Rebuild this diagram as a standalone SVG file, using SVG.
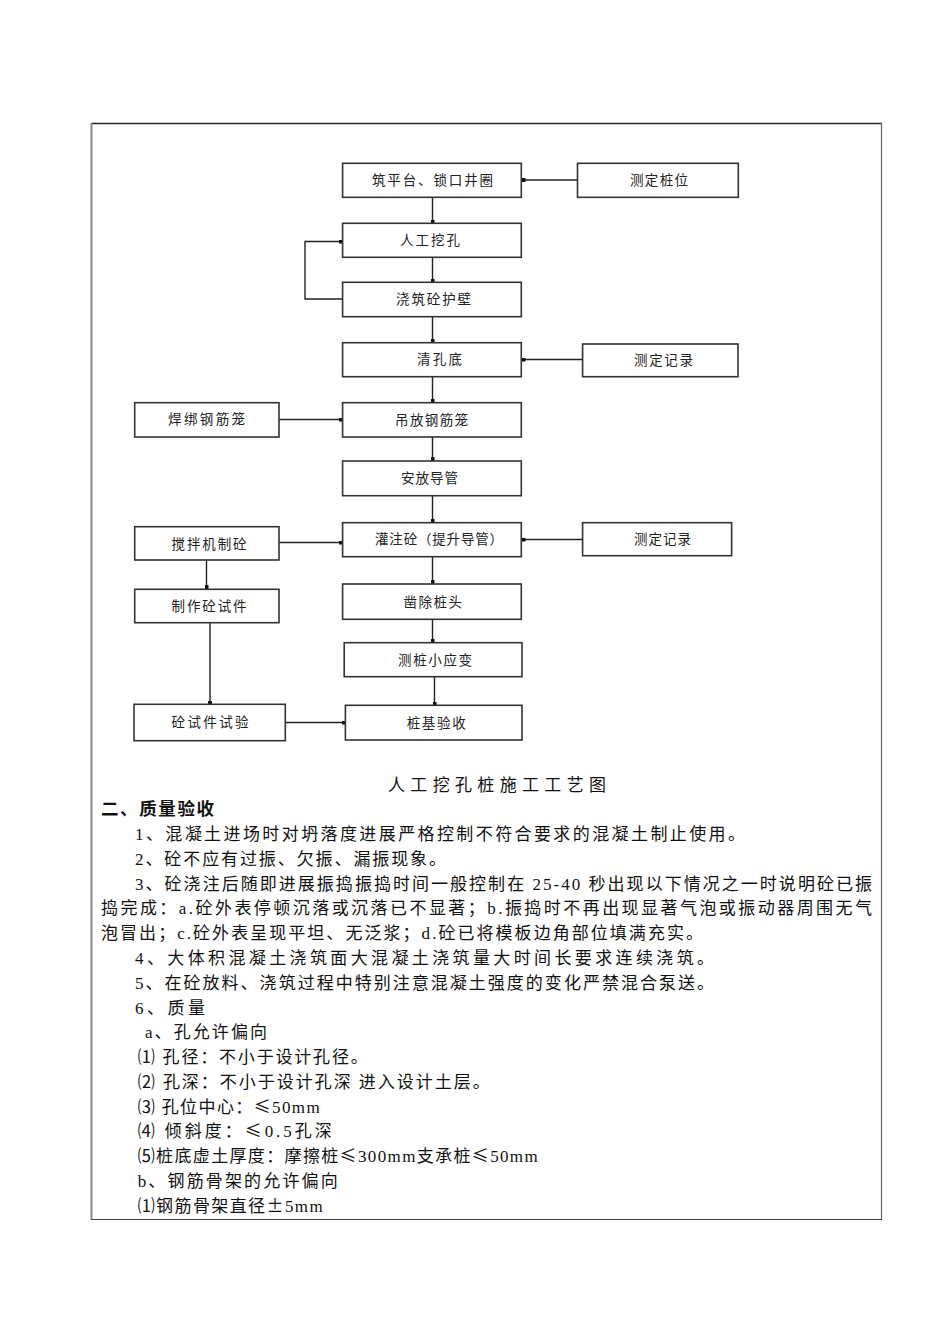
<svg xmlns="http://www.w3.org/2000/svg" width="950" height="1344" viewBox="0 0 950 1344">
<style>
.box{fill:#fff;stroke:#333;stroke-width:1.6}
.bt{font-family:"Noto Sans CJK SC",sans-serif;font-size:13.5px;fill:#222}
.ln{fill:none;stroke:#222;stroke-width:1.4}
.tx{font-family:"Liberation Serif","Noto Sans CJK SC",serif;font-size:17px;fill:#111}
.cj{font-family:"Noto Sans CJK SC",sans-serif}
.hd{font-family:"Liberation Serif","Noto Sans CJK SC",serif;font-size:17.5px;font-weight:bold;fill:#111}
</style>
<defs>
<marker id="sq" markerUnits="userSpaceOnUse" markerWidth="4" markerHeight="4" viewBox="0 0 4 4" refX="4" refY="2" orient="auto"><rect x="0" y="0" width="4" height="4" fill="#111"/></marker>
</defs>
<rect width="950" height="1344" fill="#fff"/>
<g id="frame">
<line x1="91" y1="123.5" x2="882" y2="123.5" stroke="#222" stroke-width="1.3"/>
<line x1="91.5" y1="123" x2="91.5" y2="1219.5" stroke="#888" stroke-width="2"/>
<line x1="881.5" y1="123" x2="881.5" y2="1219.5" stroke="#666" stroke-width="1.2"/>
<line x1="91" y1="1219.5" x2="882" y2="1219.5" stroke="#444" stroke-width="1.2"/>
</g>
<g id="connectors">
<path class="ln" marker-end="url(#sq)" d="M577.5,180 H521.5"/>
<path class="ln" marker-end="url(#sq)" d="M432.5,197.5 V223.5"/>
<path class="ln" marker-end="url(#sq)" d="M432.5,257.5 V282.5"/>
<path class="ln" marker-end="url(#sq)" d="M343,299 H305 V241.5 H342.5"/>
<path class="ln" marker-end="url(#sq)" d="M432.5,316.5 V342.5"/>
<path class="ln" marker-end="url(#sq)" d="M582.5,359.5 H521.5"/>
<path class="ln" marker-end="url(#sq)" d="M432.5,376.5 V402.5"/>
<path class="ln" marker-end="url(#sq)" d="M279,419.5 H342.5"/>
<path class="ln" marker-end="url(#sq)" d="M432.5,437 V461"/>
<path class="ln" marker-end="url(#sq)" d="M432.5,495.5 V522.5"/>
<path class="ln" marker-end="url(#sq)" d="M279,542.5 H342.5"/>
<path class="ln" marker-end="url(#sq)" d="M582.5,539.5 H521.5"/>
<path class="ln" marker-end="url(#sq)" d="M432.5,556.5 V584"/>
<path class="ln" marker-end="url(#sq)" d="M432.5,619 V642.5"/>
<path class="ln" marker-end="url(#sq)" d="M434.5,676.5 V705.5"/>
<path class="ln" marker-end="url(#sq)" d="M206.5,560 V589"/>
<path class="ln" marker-end="url(#sq)" d="M210,622.5 V704.5"/>
<path class="ln" marker-end="url(#sq)" d="M285.5,722.5 H345.5"/>
</g>
<g id="n1"><rect class="box" x="342.6" y="163.3" width="178.7" height="34"/><text class="bt" x="372" y="185" textLength="121" lengthAdjust="spacing">筑平台、锁口井圈</text></g>
<g id="n2"><rect class="box" x="577.5" y="163.3" width="160.8" height="34"/><text class="bt" x="630" y="185" textLength="58" lengthAdjust="spacing">测定桩位</text></g>
<g id="n3"><rect class="box" x="342.6" y="223.3" width="178.7" height="34"/><text class="bt" x="400" y="245" textLength="60" lengthAdjust="spacing">人工挖孔</text></g>
<g id="n4"><rect class="box" x="342.6" y="282.3" width="178.7" height="34.4"/><text class="bt" x="396" y="304" textLength="75" lengthAdjust="spacing">浇筑砼护壁</text></g>
<g id="n5"><rect class="box" x="342.6" y="342.7" width="178.7" height="34"/><text class="bt" x="417" y="364" textLength="45" lengthAdjust="spacing">清孔底</text></g>
<g id="n6"><rect class="box" x="582.6" y="344" width="155.4" height="32.7"/><text class="bt" x="634" y="365" textLength="59" lengthAdjust="spacing">测定记录</text></g>
<g id="n7"><rect class="box" x="134.7" y="402.7" width="144.3" height="34.3"/><text class="bt" x="168" y="424" textLength="77" lengthAdjust="spacing">焊绑钢筋笼</text></g>
<g id="n8"><rect class="box" x="342.6" y="402.7" width="178.7" height="34.3"/><text class="bt" x="395" y="425" textLength="73" lengthAdjust="spacing">吊放钢筋笼</text></g>
<g id="n9"><rect class="box" x="342.6" y="461" width="178.7" height="34.7"/><text class="bt" x="401" y="483" textLength="57" lengthAdjust="spacing">安放导管</text></g>
<g id="n10"><rect class="box" x="134.7" y="526.7" width="144.3" height="33.3"/><text class="bt" x="171.5" y="549" textLength="75" lengthAdjust="spacing">搅拌机制砼</text></g>
<g id="n11"><rect class="box" x="342.6" y="522.7" width="178.7" height="34"/><text class="bt" x="375" y="544" textLength="128" lengthAdjust="spacing">灌注砼（提升导管）</text></g>
<g id="n12"><rect class="box" x="582.6" y="522.7" width="149" height="33"/><text class="bt" x="634" y="544" textLength="57" lengthAdjust="spacing">测定记录</text></g>
<g id="n13"><rect class="box" x="342.6" y="584" width="178.7" height="35.3"/><text class="bt" x="403.5" y="607" textLength="58.5" lengthAdjust="spacing">凿除桩头</text></g>
<g id="n14"><rect class="box" x="134.7" y="589.3" width="144.3" height="33.4"/><text class="bt" x="171.5" y="611" textLength="75" lengthAdjust="spacing">制作砼试件</text></g>
<g id="n15"><rect class="box" x="344.2" y="642.7" width="177.8" height="34"/><text class="bt" x="398" y="665" textLength="74" lengthAdjust="spacing">测桩小应变</text></g>
<g id="n16"><rect class="box" x="134" y="704.3" width="151.3" height="36.4"/><text class="bt" x="171.5" y="727" textLength="77" lengthAdjust="spacing">砼试件试验</text></g>
<g id="n17"><rect class="box" x="345.4" y="705.3" width="176.6" height="34.7"/><text class="bt" x="406.7" y="728" textLength="59" lengthAdjust="spacing">桩基验收</text></g>
<g id="body">
<text class="tx" x="388" y="791" textLength="218" lengthAdjust="spacing">人工挖孔桩施工工艺图</text>
<text class="hd" x="101" y="815" textLength="113" lengthAdjust="spacing">二、质量验收</text>
<text class="tx" x="135" y="840" textLength="610" lengthAdjust="spacing">1、混凝土进场时对坍落度进展严格控制不符合要求的混凝土制止使用。</text>
<text class="tx" x="135" y="865" textLength="311" lengthAdjust="spacing">2、砼不应有过振、欠振、漏振现象。</text>
<text class="tx" x="135" y="890" textLength="737" lengthAdjust="spacing">3、砼浇注后随即进展振捣振捣时间一般控制在 25-40 秒出现以下情况之一时说明砼已振</text>
<text class="tx" x="101" y="914" textLength="771" lengthAdjust="spacing">捣完成：a.砼外表停顿沉落或沉落已不显著；b.振捣时不再出现显著气泡或振动器周围无气</text>
<text class="tx" x="101" y="939" textLength="602" lengthAdjust="spacing">泡冒出；c.砼外表呈现平坦、无泛浆；d.砼已将模板边角部位填满充实。</text>
<text class="tx" x="135" y="964" textLength="579" lengthAdjust="spacing">4、大体积混凝土浇筑面大混凝土浇筑量大时间长要求连续浇筑。</text>
<text class="tx" x="135" y="989" textLength="579" lengthAdjust="spacing">5、在砼放料、浇筑过程中特别注意混凝土强度的变化严禁混合泵送。</text>
<text class="tx" x="135" y="1014" textLength="70" lengthAdjust="spacing">6、质量</text>
<text class="tx" x="145" y="1038" textLength="122" lengthAdjust="spacing">a、孔允许偏向</text>
<text class="tx" x="137.7" y="1063" textLength="230" lengthAdjust="spacing">⑴ 孔径：不小于设计孔径。</text>
<text class="tx" x="137.7" y="1088" textLength="352" lengthAdjust="spacing">⑵ 孔深：不小于设计孔深 进入设计土层。</text>
<text class="tx" x="137.7" y="1113" textLength="182" lengthAdjust="spacing">⑶ 孔位中心：<tspan class="cj">≤</tspan>50mm</text>
<text class="tx" x="137.7" y="1137" textLength="194" lengthAdjust="spacing">⑷ 倾斜度：<tspan class="cj">≤</tspan>0.5孔深</text>
<text class="tx" x="137.7" y="1162" textLength="400" lengthAdjust="spacing">⑸桩底虚土厚度：摩擦桩<tspan class="cj">≤</tspan>300mm支承桩<tspan class="cj">≤</tspan>50mm</text>
<text class="tx" x="137.7" y="1187" textLength="200" lengthAdjust="spacing">b、钢筋骨架的允许偏向</text>
<text class="tx" x="137.7" y="1212" textLength="185" lengthAdjust="spacing">⑴钢筋骨架直径<tspan class="cj">±</tspan>5mm</text>
</g>
</svg>
